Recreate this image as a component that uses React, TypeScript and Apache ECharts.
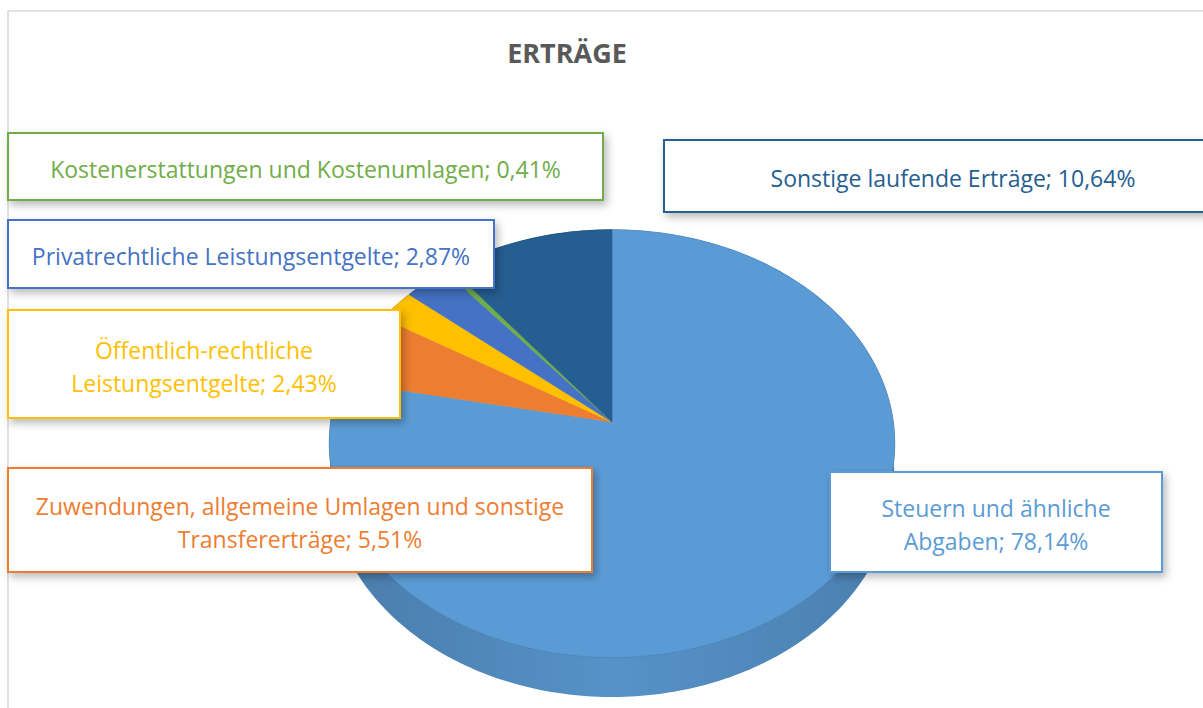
import React, { useEffect, useRef } from 'react';
import * as echarts from 'echarts';

// ---- data ----
const CATEGORIES = [
  'Steuern und ähnliche Abgaben',
  'Zuwendungen, allgemeine Umlagen und sonstige Transfererträge',
  'Öffentlich-rechtliche Leistungsentgelte',
  'Privatrechtliche Leistungsentgelte',
  'Kostenerstattungen und Kostenumlagen',
  'Sonstige laufende Erträge',
];
const SHARES = [78.14, 5.51, 2.43, 2.87, 0.41, 10.64];
const COLORS = ['#5B9BD5', '#ED7D31', '#FFC000', '#4472C4', '#70AD47', '#255E91'];
const TITLE = 'ERTRÄGE';

// ---- layout (positions / sizes only) ----
const LABEL_BOXES = [
  { x: 830, y: 472, w: 332, h: 100, breakAfter: 'ähnliche' },
  { x: 8, y: 468, w: 584, h: 104, breakAfter: 'sonstige' },
  { x: 8, y: 310, w: 392, h: 108, breakAfter: 'rechtliche' },
  { x: 8, y: 220, w: 486, h: 68, breakAfter: '' },
  { x: 8, y: 133, w: 595, h: 67, breakAfter: '' },
  { x: 664, y: 140, w: 578, h: 72, breakAfter: '' },
];
const CX = 612;
const CY = 422;
const RX = 281;
const RY = 211.3;
const PERSP = 0.1007;
const DEPTH = 36;
const FONT = '"Open Sans", Lato, sans-serif';

function proj(theta: number, drop = 0): number[] {
  const u = Math.sin(theta);
  const v = -Math.cos(theta);
  const k = 1 / (1 - PERSP * v);
  return [CX + RX * u * k, CY + (RY * v + drop) * k];
}

function shade(hex: string, f: number): string {
  const n = parseInt(hex.slice(1), 16);
  const r = Math.round(((n >> 16) & 255) * f);
  const g = Math.round(((n >> 8) & 255) * f);
  const b = Math.round((n & 255) * f);
  return `rgb(${r},${g},${b})`;
}

function sliceAngles(i: number, value: number): number[] {
  const total = SHARES.reduce((a, b) => a + b, 0);
  let before = 0;
  for (let j = 0; j < i; j++) before += SHARES[j];
  const a1 = (before / total) * Math.PI * 2;
  const a2 = ((before + value) / total) * Math.PI * 2;
  return [a1, a2];
}

function rimPoints(a1: number, a2: number, drop = 0): number[][] {
  const steps = Math.max(2, Math.ceil(((a2 - a1) * 180) / Math.PI));
  const pts: number[][] = [];
  for (let s = 0; s <= steps; s++) pts.push(proj(a1 + ((a2 - a1) * s) / steps, drop));
  return pts;
}

function fmtPct(v: number): string {
  return v.toFixed(2).replace('.', ',') + '%';
}

function labelText(i: number, v: number): string {
  let t = `${CATEGORIES[i]}; ${fmtPct(v)}`;
  const br = LABEL_BOXES[i].breakAfter;
  if (br) {
    const idx = t.indexOf(br + ' ');
    if (idx >= 0) t = t.slice(0, idx + br.length) + '\n' + t.slice(idx + br.length + 1);
  }
  return t;
}

export default function App() {
  const ref = useRef<HTMLDivElement>(null);
  useEffect(() => {
    document.body.style.margin = '0';
    if (!ref.current) return;
    const chart = echarts.init(ref.current, undefined, { renderer: 'svg' });
    const data = SHARES.map((v, i) => ({ name: CATEGORIES[i], value: v }));

    const option: any = {
      animation: false,
      backgroundColor: '#ffffff',
      graphic: [
        {
          type: 'rect',
          silent: true,
          z: -10,
          shape: { x: 8, y: 11, width: 1300, height: 800 },
          style: { fill: 'none', stroke: '#D9D9D9', lineWidth: 1.5 },
        },
        {
          type: 'text',
          x: 567,
          y: 52,
          z: 5,
          style: {
            text: TITLE,
            fill: '#595959',
            font: `bold 27px ${FONT}`,
            align: 'center',
            verticalAlign: 'middle',
            textAlign: 'center',
            textVerticalAlign: 'middle',
          },
        },
      ],
      series: [
        {
          type: 'custom',
          name: 'walls',
          coordinateSystem: 'none',
          z: 1,
          data,
          renderItem: (params: any, api: any) => {
            const i = params.dataIndex;
            const [a1, a2] = sliceAngles(i, api.value(0));
            const top = rimPoints(a1, a2, 0);
            const bottom = rimPoints(a1, a2, DEPTH).reverse();
            const c = COLORS[i];
            return {
              type: 'group',
              children: [
                {
                  type: 'polygon',
                  shape: { points: top.concat(bottom) },
                  style: {
                    fill: new echarts.graphic.LinearGradient(0, 0, 1, 0, [
                      { offset: 0, color: shade(c, 0.8) },
                      { offset: 0.5, color: shade(c, 0.94) },
                      { offset: 1, color: shade(c, 0.82) },
                    ]),
                    stroke: 'none',
                  },
                },
                {
                  type: 'polyline',
                  shape: { points: top },
                  style: { fill: 'none', stroke: shade(c, 0.82), lineWidth: 1.5 },
                },
              ],
            };
          },
        },
        {
          type: 'custom',
          name: 'tops',
          coordinateSystem: 'none',
          z: 2,
          data,
          renderItem: (params: any, api: any) => {
            const i = params.dataIndex;
            const [a1, a2] = sliceAngles(i, api.value(0));
            const pts = [[CX, CY]].concat(rimPoints(a1, a2, 0));
            return {
              type: 'polygon',
              shape: { points: pts },
              style: { fill: COLORS[i], stroke: COLORS[i], lineWidth: 0.6 },
            };
          },
        },
        {
          type: 'custom',
          name: 'labels',
          coordinateSystem: 'none',
          z: 10,
          data,
          renderItem: (params: any, api: any) => {
            const i = params.dataIndex;
            const b = LABEL_BOXES[i];
            const c = COLORS[i];
            return {
              type: 'group',
              children: [
                {
                  type: 'rect',
                  shape: { x: b.x, y: b.y, width: b.w, height: b.h },
                  style: {
                    fill: '#ffffff',
                    stroke: c,
                    lineWidth: 2,
                    shadowBlur: 8,
                    shadowOffsetX: 3,
                    shadowOffsetY: 4,
                    shadowColor: 'rgba(0,0,0,0.28)',
                  },
                },
                {
                  type: 'text',
                  z2: 2,
                  style: {
                    text: labelText(i, api.value(0)),
                    x: b.x + b.w / 2,
                    y: b.y + b.h / 2 + 2,
                    fill: c,
                    font: `23px ${FONT}`,
                    align: 'center',
                    verticalAlign: 'middle',
                    lineHeight: 33,
                  },
                },
              ],
            };
          },
        },
      ],
    };
    chart.setOption(option);
    return () => chart.dispose();
  }, []);
  return <div ref={ref} style={{ width: 1203, height: 708 }} />;
}
